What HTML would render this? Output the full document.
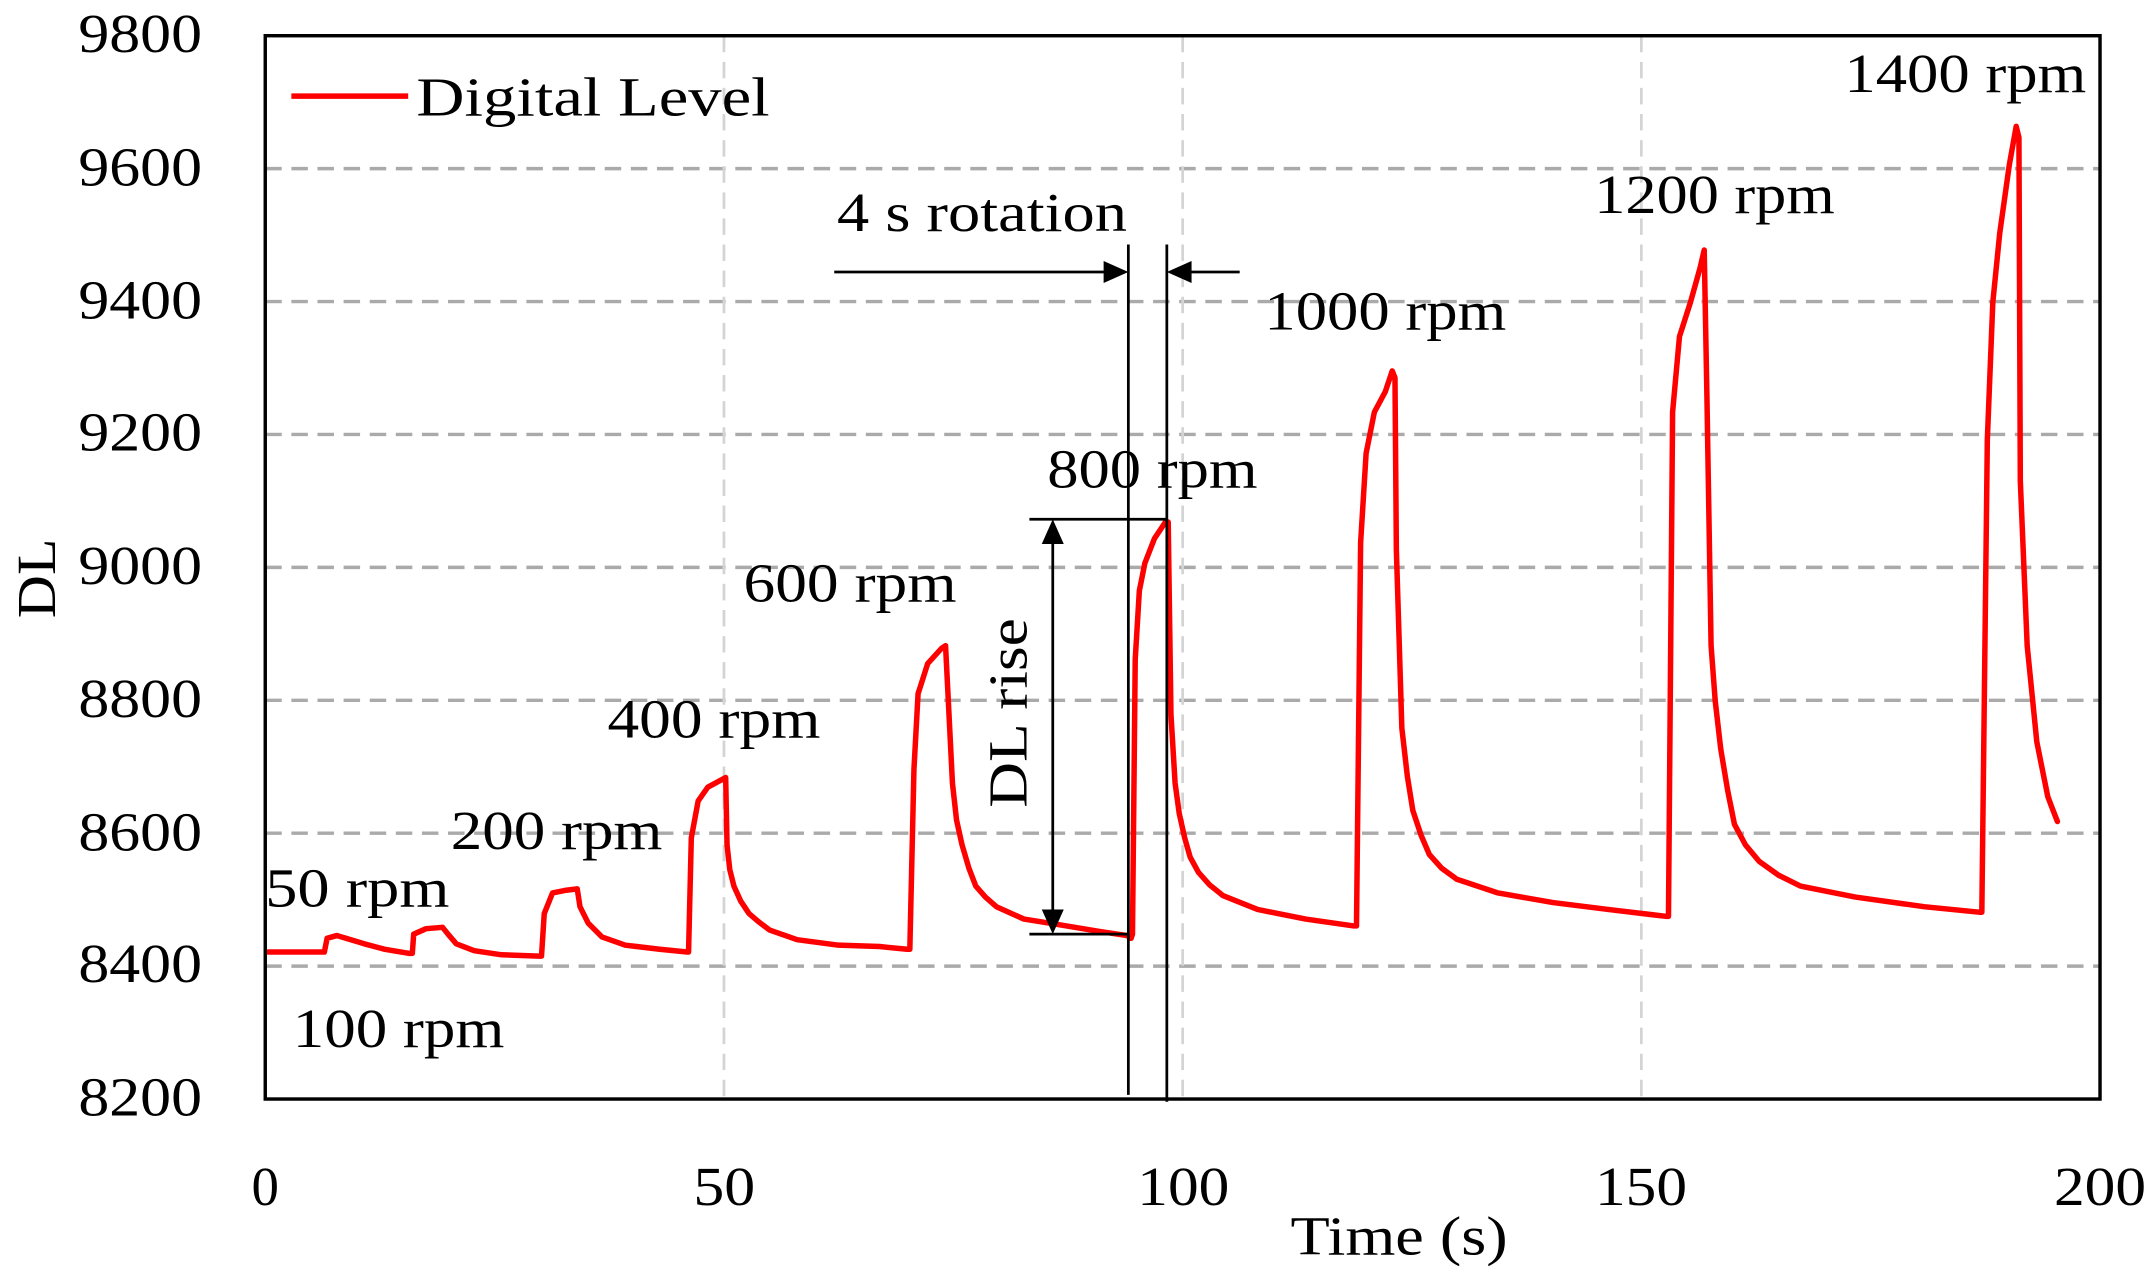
<!DOCTYPE html>
<html><head><meta charset="utf-8"><style>
html,body{margin:0;padding:0;background:#fff}
svg{display:block}
text{font-family:"Liberation Serif",serif;fill:#000}
</style></head><body>
<svg width="2155" height="1279" viewBox="0 0 1568 931" preserveAspectRatio="none">
<g stroke="#aaa" stroke-width="2.5" stroke-dasharray="12,7">
<line x1="193" x2="1528" y1="122.75" y2="122.75"/>
<line x1="193" x2="1528" y1="219.5" y2="219.5"/>
<line x1="193" x2="1528" y1="316.25" y2="316.25"/>
<line x1="193" x2="1528" y1="413" y2="413"/>
<line x1="193" x2="1528" y1="509.75" y2="509.75"/>
<line x1="193" x2="1528" y1="606.5" y2="606.5"/>
<line x1="193" x2="1528" y1="703.25" y2="703.25"/>
</g>
<g stroke="#d4d4d4" stroke-width="2" stroke-dasharray="12,7">
<line x1="526.75" x2="526.75" y1="26" y2="800"/>
<line x1="860.5" x2="860.5" y1="26" y2="800"/>
<line x1="1194.25" x2="1194.25" y1="26" y2="800"/>
</g>
<path fill="none" stroke="#f00" stroke-width="4" stroke-linejoin="round" stroke-linecap="round" d="M195,693 L236,693 L238,683 L245,681 L255,684 L265,687 L280,691 L298,694 L300,694 L301,680 L310,676 L322,675 L326,680 L332,687 L345,692 L365,695 L392,696 L394,696 L396,665 L402,650 L412,648 L420,647 L422,660 L428,672 L438,682 L455,688 L480,691 L500,693 L501,693 L503,610 L508,583 L515,573 L528,566 L529,615 L531,633 L534,645 L539,656 L545,665 L552,671 L560,677 L580,684 L610,688 L640,689 L660,691 L662,691 L665,560 L668,505 L675,483 L685,472 L688,470 L690,510 L693,570 L696,597 L700,615 L705,632 L710,645 L717,653 L725,660 L745,669 L770,673 L800,678 L820,681 L823,683 L824,680 L826,480 L829,430 L833,410 L840,392 L848,380 L850,380 L852,520 L855,570 L858,592 L862,610 L866,624 L872,635 L880,644 L890,652 L915,662 L950,669 L985,674 L987,674 L990,395 L994,330 L1000,300 L1008,285 L1013,270 L1015,275 L1016,400 L1020,530 L1024,565 L1028,590 L1034,608 L1040,622 L1049,632 L1060,640 L1090,650 L1130,657 L1170,662 L1212,667 L1214,667 L1217,300 L1222,245 L1230,220 L1237,195 L1240,182 L1242,290 L1245,470 L1248,510 L1252,545 L1257,575 L1262,600 L1270,615 L1280,627 L1294,637 L1310,645 L1350,653 L1400,660 L1440,664 L1442,664 L1446,320 L1450,220 L1455,170 L1462,120 L1467,92 L1469,100 L1470,350 L1475,470 L1482,540 L1490,580 L1497,598"/>
<rect x="193" y="26" width="1335" height="774" fill="none" stroke="#000" stroke-width="2.5"/>
<g font-size="40" text-anchor="end">
<text x="147" y="38" textLength="90" lengthAdjust="spacingAndGlyphs">9800</text><text x="147" y="135" textLength="90" lengthAdjust="spacingAndGlyphs">9600</text><text x="147" y="232" textLength="90" lengthAdjust="spacingAndGlyphs">9400</text>
<text x="147" y="328" textLength="90" lengthAdjust="spacingAndGlyphs">9200</text><text x="147" y="425" textLength="90" lengthAdjust="spacingAndGlyphs">9000</text><text x="147" y="522" textLength="90" lengthAdjust="spacingAndGlyphs">8800</text>
<text x="147" y="619" textLength="90" lengthAdjust="spacingAndGlyphs">8600</text><text x="147" y="715" textLength="90" lengthAdjust="spacingAndGlyphs">8400</text><text x="147" y="812" textLength="90" lengthAdjust="spacingAndGlyphs">8200</text>
</g>
<g font-size="40" text-anchor="middle">
<text x="193" y="877">0</text><text x="527" y="877" textLength="45" lengthAdjust="spacingAndGlyphs">50</text><text x="861" y="877" textLength="67" lengthAdjust="spacingAndGlyphs">100</text>
<text x="1194" y="877" textLength="67" lengthAdjust="spacingAndGlyphs">150</text><text x="1528" y="877" textLength="67" lengthAdjust="spacingAndGlyphs">200</text>
<text x="1018" y="913" textLength="158" lengthAdjust="spacingAndGlyphs">Time (s)</text>
</g>
<text font-size="40" text-anchor="middle" transform="translate(27,421) rotate(-90)" dy="13" textLength="58" lengthAdjust="spacingAndGlyphs">DL</text>
<line x1="212" x2="297" y1="70" y2="70" stroke="#f00" stroke-width="4"/>
<g font-size="40">
<text x="303" y="84" textLength="257" lengthAdjust="spacingAndGlyphs">Digital Level</text>
<text x="193" y="660" textLength="134" lengthAdjust="spacingAndGlyphs">50 rpm</text>
<text x="213" y="762" textLength="154" lengthAdjust="spacingAndGlyphs">100 rpm</text>
<text x="328" y="618" textLength="154" lengthAdjust="spacingAndGlyphs">200 rpm</text>
<text x="442" y="537" textLength="155" lengthAdjust="spacingAndGlyphs">400 rpm</text>
<text x="541" y="438" textLength="155" lengthAdjust="spacingAndGlyphs">600 rpm</text>
<text x="762" y="355" textLength="153" lengthAdjust="spacingAndGlyphs">800 rpm</text>
<text x="920" y="240" textLength="176" lengthAdjust="spacingAndGlyphs">1000 rpm</text>
<text x="1160" y="155" textLength="175" lengthAdjust="spacingAndGlyphs">1200 rpm</text>
<text x="1342" y="67" textLength="176" lengthAdjust="spacingAndGlyphs">1400 rpm</text>
<text x="609" y="168" textLength="211" lengthAdjust="spacingAndGlyphs">4 s rotation</text>
</g>
<text font-size="40" text-anchor="middle" transform="translate(734,519) rotate(-90)" dy="13" textLength="138" lengthAdjust="spacingAndGlyphs">DL rise</text>
<g stroke="#000" stroke-width="2" fill="none">
<line x1="821" x2="821" y1="178" y2="797"/>
<line x1="849" x2="849" y1="178" y2="802"/>
<line x1="607" x2="808" y1="198" y2="198"/>
<line x1="866" x2="902" y1="198" y2="198"/>
<line x1="749" x2="849" y1="378" y2="378"/>
<line x1="749" x2="821" y1="680" y2="680"/>
<line x1="766" x2="766" y1="392" y2="666"/>
</g>
<g fill="#000">
<polygon points="821,198 803,190 803,206"/>
<polygon points="849,198 867,190 867,206"/>
<polygon points="766,378 758,396 774,396"/>
<polygon points="766,680 758,662 774,662"/>
</g>
</svg>
</body></html>
